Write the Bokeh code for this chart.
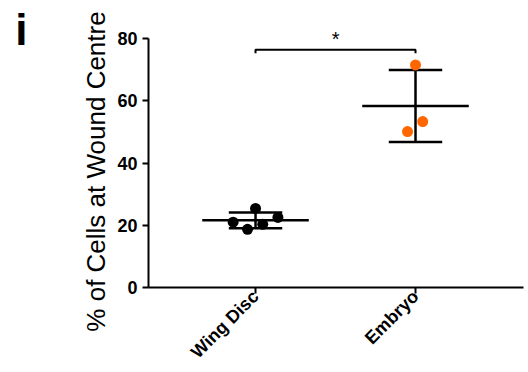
import numpy as np
from math import pi
from bokeh.plotting import figure
from bokeh.models import FixedTicker, LinearAxis, Range1d
from bokeh.core.properties import value
from bokeh.embed import file_html
from bokeh.resources import INLINE

categories = ["Wing Disc", "Embryo"]
cat_pos = [1, 2]
wing_disc = [21.0, 18.7, 25.4, 20.3, 22.5]
wing_disc_jitter = [-0.14, -0.05, 0.0, 0.045, 0.14]
embryo = [71.5, 53.3, 50.1]
embryo_jitter = [0.0, 0.045, -0.05]
colors = ["#000000", "#FF6600"]
y_ticks = [0, 20, 40, 60, 80]
y_title = "% of Cells at Wound Centre"
y_title_level = 62.5
bracket_top = 76.4
bracket_drop = 1.1
sig_label = "*"
panel_letter = "i"
panel_letter_level = 83.0

series = [wing_disc, embryo]
jitters = [wing_disc_jitter, embryo_jitter]

p = figure(width=528, height=372, output_backend="svg", toolbar_location=None,
           x_range=Range1d(0.331, 2.675), y_range=Range1d(0, 89),
           min_border_left=148, min_border_right=5, min_border_top=10, min_border_bottom=85)
p.outline_line_color = None
p.xgrid.visible = False
p.ygrid.visible = False
p.background_fill_color = "white"

for pos, vals, jit, col in zip(cat_pos, series, jitters, colors):
    v = np.array(vals)
    m = v.mean()
    s = v.std(ddof=1)
    p.segment(x0=[pos - 0.333], y0=[m], x1=[pos + 0.333], y1=[m], line_color="black", line_width=2.5)
    p.segment(x0=[pos - 0.167, pos - 0.167, pos], y0=[m + s, m - s, m - s],
              x1=[pos + 0.167, pos + 0.167, pos], y1=[m + s, m - s, m + s],
              line_color="black", line_width=2.5)
    p.scatter(x=[pos + j for j in jit], y=vals, size=11, fill_color=col, line_color=None)

p.line(x=[cat_pos[0], cat_pos[0], cat_pos[1], cat_pos[1]],
       y=[bracket_top - bracket_drop, bracket_top, bracket_top, bracket_top - bracket_drop],
       line_color="black", line_width=2)
p.text(x=[(cat_pos[0] + cat_pos[1]) / 2], y=[bracket_top + 3.3], text=[sig_label],
       text_font=value("Liberation Sans"), text_font_size="20px", text_align="center",
       text_baseline="middle", text_color="black")

p.yaxis.ticker = FixedTicker(ticks=y_ticks)
p.yaxis.bounds = (0, 80)
p.xaxis.ticker = FixedTicker(ticks=cat_pos)
p.xaxis.major_label_overrides = {pos: c for pos, c in zip(cat_pos, categories)}
p.xaxis.major_label_orientation = pi / 4
p.xaxis.major_label_standoff = 0
p.xaxis.minor_tick_line_color = None
p.yaxis.minor_tick_line_color = None
for ax in (p.xaxis[0], p.yaxis[0]):
    ax.axis_line_width = 2
    ax.major_tick_line_width = 2
    ax.major_tick_in = 0
    ax.major_tick_out = 6
    ax.axis_line_color = "black"
    ax.major_tick_line_color = "black"
    ax.major_label_text_font = "Liberation Sans"
    ax.major_label_text_font_style = "bold"
    ax.major_label_text_color = "black"
p.yaxis.major_label_text_font_size = "18px"
p.xaxis.major_label_text_font_size = "18px"

title_axis = LinearAxis(ticker=FixedTicker(ticks=[y_title_level]),
                        major_label_overrides={y_title_level: y_title},
                        major_label_orientation=pi / 2,
                        axis_line_color=None, major_tick_line_color=None,
                        minor_tick_line_color=None, major_label_standoff=13,
                        major_label_text_font="Liberation Sans",
                        major_label_text_font_style="normal",
                        major_label_text_font_size="26px",
                        major_label_text_color="black")
p.add_layout(title_axis, "left")

letter_axis = LinearAxis(ticker=FixedTicker(ticks=[panel_letter_level]),
                         major_label_overrides={panel_letter_level: panel_letter},
                         axis_line_color=None, major_tick_line_color=None,
                         minor_tick_line_color=None, major_label_standoff=29,
                         major_label_text_font="Liberation Sans",
                         major_label_text_font_style="bold",
                         major_label_text_font_size="44px",
                         major_label_text_color="black")
p.add_layout(letter_axis, "left")

open("out.html", "w").write(file_html(p, INLINE))
